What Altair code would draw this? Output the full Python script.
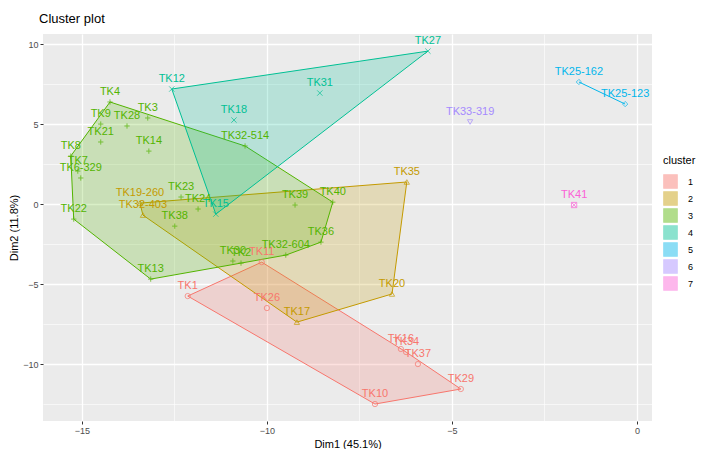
import altair as alt
import pandas as pd

# ---- data ----
names = ["TK1", "TK26", "TK11", "TK10", "TK29", "TK37", "TK16", "TK34",
         "TK19-260", "TK32-403", "TK35", "TK20", "TK17",
         "TK4", "TK3", "TK9", "TK28", "TK21", "TK14", "TK8", "TK7", "TK6-329",
         "TK22", "TK23", "TK24", "TK38", "TK13", "TK30", "TK2", "TK32-604",
         "TK36", "TK39", "TK40", "TK32-514",
         "TK12", "TK27", "TK31", "TK18", "TK15",
         "TK25-162", "TK25-123",
         "TK33-319",
         "TK41"]
dim1 = [-12.14, -10.0, -10.14, -7.08, -4.76, -5.92, -6.38, -6.24,
        -13.43, -13.35, -6.22, -6.62, -9.19,
        -14.24, -13.22, -14.49, -13.78, -14.49, -13.19, -15.30, -15.11, -15.03,
        -15.22, -12.32, -11.86, -12.49, -13.14, -10.92, -10.70, -9.49,
        -8.54, -9.24, -8.22, -10.59,
        -12.57, -5.65, -8.57, -10.89, -11.38,
        -1.57, -0.32,
        -4.51,
        -1.70]
dim2 = [-5.75, -6.5, -3.63, -12.5, -11.56, -10.0, -9.06, -9.25,
        0.06, -0.69, 1.38, -5.62, -7.38,
        6.38, 5.38, 5.0, 4.88, 3.88, 3.31, 3.0, 2.06, 1.63,
        -0.94, 0.44, -0.31, -1.38, -4.69, -3.56, -3.69, -3.19,
        -2.38, -0.06, 0.12, 3.63,
        7.19, 9.56, 6.94, 5.25, -0.63,
        7.63, 6.25,
        5.13,
        -0.06]
cluster = ["1"] * 8 + ["2"] * 5 + ["3"] * 21 + ["4"] * 5 + ["5"] * 2 + ["6"] + ["7"]

clusters = ["1", "2", "3", "4", "5", "6", "7"]
colors = ["#F8766D", "#C49A00", "#53B400", "#00C094", "#00B6EB", "#A58AFF", "#FB61D7"]
shapes = ["circle", "triangle-up", "M-1,0L1,0M0,-1L0,1", "M-1,-1L1,1M-1,1L1,-1",
          "diamond", "triangle-down", "M-1,-1L1,-1L1,1L-1,1ZM-1,-1L1,1M-1,1L1,-1"]

pts = pd.DataFrame({"name": names, "x": dim1, "y": dim2, "cluster": cluster})
pts["grp"] = pts["cluster"]


# ---- convex hulls (derived from the points) ----
def convex_hull(p):
    p = sorted(set(p))
    if len(p) <= 2:
        return p
    def cross(o, a, b):
        return (a[0] - o[0]) * (b[1] - o[1]) - (a[1] - o[1]) * (b[0] - o[0])
    lower, upper = [], []
    for q in p:
        while len(lower) >= 2 and cross(lower[-2], lower[-1], q) <= 0:
            lower.pop()
        lower.append(q)
    for q in reversed(p):
        while len(upper) >= 2 and cross(upper[-2], upper[-1], q) <= 0:
            upper.pop()
        upper.append(q)
    return lower[:-1] + upper[:-1]

rows = []
for c in clusters:
    sub = pts[pts.cluster == c]
    if len(sub) < 2:
        continue
    h = convex_hull(list(zip(sub.x, sub.y)))
    ring = h + [h[0]] if len(h) > 2 else h
    for i, (hx, hy) in enumerate(ring):
        rows.append({"cluster": c, "x": hx, "y": hy, "idx": i})
hull = pd.DataFrame(rows)

xvals = [-15, -12.5, -10, -7.5, -5, -2.5, 0]
yvals = [-12.5, -10, -7.5, -5, -2.5, 0, 2.5, 5, 7.5, 10]

major = "datum.value % 5 === 0"
xscale = alt.Scale(domain=[-16.05, 0.405], nice=False, zero=False)
yscale = alt.Scale(domain=[-13.56, 10.63], nice=False, zero=False)

xaxis = alt.Axis(values=xvals, title="Dim1 (45.1%)",
                 labelExpr="datum.value % 5 === 0 ? datum.label : ''",
                 gridWidth={"condition": {"test": major, "value": 1.3}, "value": 0.6},
                 tickOpacity={"condition": {"test": major, "value": 1}, "value": 0})
yaxis = alt.Axis(values=yvals, title="Dim2 (11.8%)",
                 labelExpr="datum.value % 5 === 0 ? datum.label : ''",
                 gridWidth={"condition": {"test": major, "value": 1.3}, "value": 0.6},
                 tickOpacity={"condition": {"test": major, "value": 1}, "value": 0})

fill_scale = alt.Scale(domain=clusters, range=colors)
stroke_scale = alt.Scale(domain=clusters, range=colors)
color_scale = alt.Scale(domain=clusters, range=colors)

leg = alt.Legend(title="cluster", orient="none", legendX=620, legendY=121,
                 symbolType="square", symbolSize=180, symbolStrokeWidth=1.2,
                 symbolOpacity=0.45, labelOffset=10, rowPadding=-3)

poly = alt.Chart(hull).mark_line(fillOpacity=0.22, strokeWidth=1).encode(
    x=alt.X("x:Q", scale=xscale, axis=xaxis),
    y=alt.Y("y:Q", scale=yscale, axis=yaxis),
    order=alt.Order("idx:Q"),
    detail="cluster:N",
    fill=alt.Fill("cluster:N", scale=fill_scale, legend=leg),
    stroke=alt.Stroke("cluster:N", scale=stroke_scale, legend=leg),
)

point_layers = []
for c, shp in zip(clusters, shapes):
    point_layers.append(
        alt.Chart(pts).transform_filter(alt.datum.grp == c)
        .mark_point(filled=False, size=28, strokeWidth=1, shape=shp)
        .encode(x="x:Q", y="y:Q",
                color=alt.Color("grp:N", scale=color_scale, legend=None))
    )

labels = alt.Chart(pts).mark_text(font="Liberation Sans", fontSize=11, dy=-10).encode(
    x="x:Q", y="y:Q", text="name:N",
    color=alt.Color("grp:N", scale=color_scale, legend=None),
)

chart = alt.layer(poly, *point_layers, labels).properties(
    width=609, height=387,
    title=alt.TitleParams("Cluster plot", anchor="start", frame="group", fontSize=13,
                          fontWeight="normal", font="Liberation Sans", color="#000000",
                          offset=8, dx=-4),
    padding={"left": 0, "top": 5, "right": 0, "bottom": 0},
).configure_view(
    fill="#EBEBEB", stroke=None
).configure_axis(
    grid=True, gridColor="#FFFFFF", domain=False, tickColor="#333333", tickSize=3,
    labelColor="#4D4D4D", labelFontSize=9, labelFont="Liberation Sans",
    titleFont="Liberation Sans", titleFontSize=11, titleFontWeight="normal",
    titleColor="#000000", labelPadding=2, titlePadding=3
).configure_legend(
    titleFont="Liberation Sans", titleFontSize=11, titleFontWeight="normal",
    labelFont="Liberation Sans", labelFontSize=9, labelColor="#000000",
    titlePadding=8
)

chart.save("out.html", embed_options={"renderer": "svg", "actions": False})
